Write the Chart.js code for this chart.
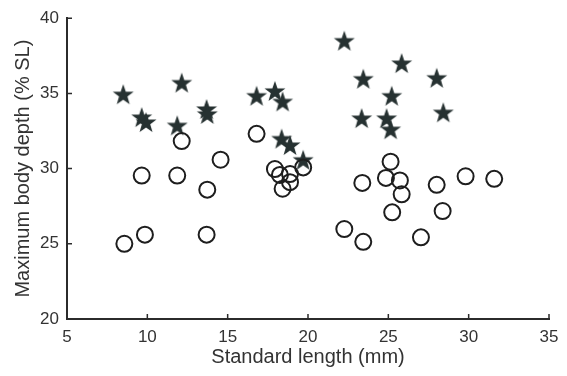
<!DOCTYPE html>
<html>
<head>
<meta charset="utf-8">
<script src="https://cdn.jsdelivr.net/npm/chart.js@4/dist/chart.umd.min.js"></script>
<style>
  html, body { margin: 0; padding: 0; background: #fff; }
  #wrap { width: 567px; height: 376px; }
</style>
</head>
<body>
<div id="wrap"><canvas id="chart"></canvas></div>
<script>
// Dados
const starX = [8.5, 12.14, 9.65, 9.92, 11.86, 13.69, 13.73, 16.8, 17.94, 18.42, 18.36, 18.88, 19.7,
               22.26, 25.83, 23.44, 28.01, 25.21, 23.34, 24.89, 25.14, 28.42];
const starY = [34.88, 35.65, 33.36, 33.03, 32.81, 33.9, 33.57, 34.78, 35.1, 34.4, 31.93, 31.5, 30.52,
               38.44, 36.95, 35.91, 35.97, 34.78, 33.29, 33.29, 32.55, 33.68];

const circleX = [12.14, 14.56, 9.65, 11.86, 13.73, 16.8, 17.94, 18.25, 18.88, 18.88, 18.42, 19.7,
                 9.85, 8.57, 13.69, 25.14, 23.38, 24.85, 25.72, 25.83, 28.01, 29.81, 31.59,
                 25.24, 28.38, 22.26, 23.44, 27.03];
const circleY = [31.83, 30.59, 29.54, 29.54, 28.6, 32.31, 29.97, 29.58, 29.64, 29.1, 28.66, 30.08,
                 25.61, 25.0, 25.61, 30.46, 29.05, 29.38, 29.21, 28.29, 28.92, 29.49, 29.32,
                 27.09, 27.18, 25.98, 25.13, 25.43];

const xTicks = [5, 10, 15, 20, 25, 30, 35];
const yTicks = [20, 25, 30, 35, 40];

const textColor = '#333';
const axisColor = '#2b2b2b';
const fontFamily = 'Liberation Sans, Arial, sans-serif';

// Estrela de 5 pontas desenhada num canvas (usada como pointStyle)
function makeStar(outer, inner, color) {
    const c = document.createElement('canvas');
    const s = Math.ceil(outer * 2 + 2);
    c.width = s; c.height = s;
    const g = c.getContext('2d');
    g.translate(s / 2, s / 2);
    g.beginPath();
    for (let i = 0; i < 10; i++) {
        const r = i % 2 === 0 ? outer : inner;
        const a = -Math.PI / 2 + i * Math.PI / 5;
        g.lineTo(r * Math.cos(a), r * Math.sin(a));
    }
    g.closePath();
    g.fillStyle = color;
    g.fill();
    return c;
}
const starImg = makeStar(11, 4.4, '#263131');

const toPts = (xs, ys) => xs.map((x, i) => ({ x: x, y: ys[i] }));

// Marcas de escala para dentro
const innerTicks = {
    id: 'innerTicks',
    afterDatasetsDraw(chart) {
        const ctx = chart.ctx;
        const xs = chart.scales.x, ys = chart.scales.y;
        const area = chart.chartArea;
        ctx.save();
        ctx.strokeStyle = axisColor;
        ctx.lineWidth = 1.5;
        ctx.beginPath();
        xTicks.slice(1).forEach(v => {
            const px = xs.getPixelForValue(v);
            ctx.moveTo(px, area.bottom);
            ctx.lineTo(px, area.bottom - 5);
        });
        yTicks.slice(1).forEach(v => {
            const py = ys.getPixelForValue(v);
            ctx.moveTo(area.left, py);
            ctx.lineTo(area.left + 5, py);
        });
        ctx.stroke();
        ctx.restore();
    }
};

const ctx = document.getElementById('chart').getContext('2d');
const chart = new Chart(ctx, {
    type: 'scatter',
    data: {
        datasets: [{
            label: 'stars',
            data: toPts(starX, starY),
            pointStyle: starImg,
            order: 2
        }, {
            label: 'circles',
            data: toPts(circleX, circleY),
            pointStyle: 'circle',
            pointRadius: 8,
            pointBorderWidth: 2,
            pointBorderColor: '#1e1e1e',
            pointBackgroundColor: 'rgba(0,0,0,0)',
            order: 1
        }]
    },
    options: {
        responsive: true,
        maintainAspectRatio: false,
        animation: false,
        layout: { padding: { top: 13, right: 18, left: 0, bottom: 0 } },
        plugins: {
            legend: { display: false },
            tooltip: { enabled: false }
        },
        scales: {
            x: {
                type: 'linear',
                min: 5, max: 35,
                afterBuildTicks: s => { s.ticks = xTicks.map(v => ({ value: v })); },
                afterFit: s => { s.height = 57; },
                grid: { display: false, drawTicks: false },
                border: { display: true, color: axisColor, width: 2 },
                ticks: {
                    padding: 8,
                    color: textColor,
                    font: { family: fontFamily, size: 17 }
                },
                title: {
                    display: true,
                    text: 'Standard length (mm)',
                    color: textColor,
                    padding: { top: 0, bottom: 7 },
                    font: { family: fontFamily, size: 20 }
                }
            },
            y: {
                type: 'linear',
                min: 20, max: 40,
                afterBuildTicks: s => { s.ticks = yTicks.map(v => ({ value: v })); },
                afterFit: s => { s.width = 67; },
                grid: { display: false, drawTicks: false },
                border: { display: true, color: axisColor, width: 2 },
                ticks: {
                    padding: 8,
                    color: textColor,
                    font: { family: fontFamily, size: 17 }
                },
                title: {
                    display: true,
                    text: 'Maximum body depth (% SL)',
                    color: textColor,
                    padding: { top: 11, bottom: 0 },
                    font: { family: fontFamily, size: 20 }
                }
            }
        }
    },
    plugins: [innerTicks]
});
</script>
</body>
</html>
